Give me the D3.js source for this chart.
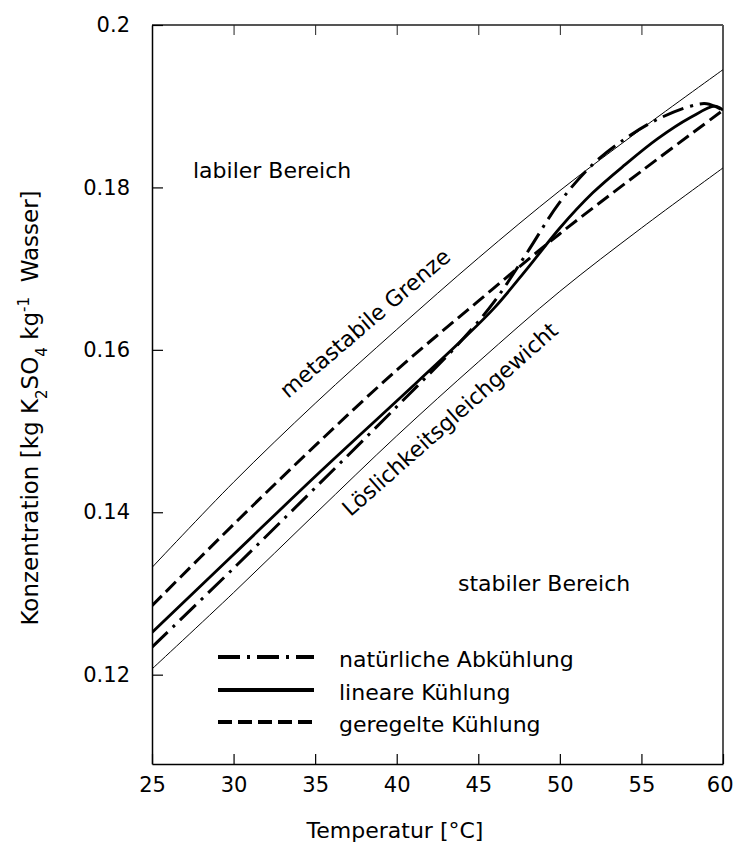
<!DOCTYPE html>
<html>
<head>
<meta charset="utf-8">
<script src="https://cdn.jsdelivr.net/npm/d3@7"></script>
<style>
  html, body { margin: 0; padding: 0; background: #fff; }
  svg { display: block; font-family: "DejaVu Sans", sans-serif; }
</style>
</head>
<body>
<svg id="chart" width="734" height="846"></svg>
<script>
// --- DATA ---
const xTicks = [25, 30, 35, 40, 45, 50, 55, 60];
const yTicks = [0.12, 0.14, 0.16, 0.18, 0.2];
const yTickLabels = ["0.12", "0.14", "0.16", "0.18", "0.2"];

// Löslichkeitsgleichgewicht (solubility) and metastabile Grenze
const solT = [25, 30, 35, 40, 45, 50, 55, 60];
const solC = [0.1207, 0.1301, 0.1398, 0.1494, 0.1585, 0.1672, 0.1750, 0.1824];
const metaT = [25, 30, 35, 40, 45, 50, 55, 60];
const metaC = [0.1332, 0.1437, 0.1534, 0.1625, 0.1713, 0.1796, 0.1872, 0.1945];

// cooling curves
const natT = [25, 30, 35, 40, 44, 46, 48, 50, 52, 54, 56, 58, 59, 60];
const natC = [0.1234, 0.1331, 0.1430, 0.1530, 0.1612, 0.1660, 0.1720, 0.1782, 0.1828, 0.1860, 0.1884, 0.1900, 0.1903, 0.1895];
const linT = [25, 30, 35, 40, 44, 46, 48, 50, 52, 54, 56, 58, 59.5, 60];
const linC = [0.1252, 0.1348, 0.1444, 0.1537, 0.1612, 0.1652, 0.1700, 0.1750, 0.1793, 0.1828, 0.1860, 0.1886, 0.1900, 0.1895];
const regT = [25, 30, 35, 40, 45, 50, 55, 60];
const regC = [0.1285, 0.1385, 0.1482, 0.1575, 0.1660, 0.1743, 0.1820, 0.1895];

const legendLabels = ["natürliche Abkühlung", "lineare Kühlung", "geregelte Kühlung"];

// --- LAYOUT ---
const L = 152, R = 723, T = 25, B = 764;
const DASH_DOT = "22,7,3,7";
const DASHED = "14,6";

const svg = d3.select("#chart");
const x = d3.scaleLinear().domain([25, 60]).range([L, R]);
const y = d3.scaleLinear().domain([0.109, 0.2]).range([B, T]);

const zip = (a, b) => a.map((v, i) => [v, b[i]]);

svg.append("defs").append("clipPath").attr("id", "plot")
  .append("rect").attr("x", L).attr("y", T).attr("width", R - L).attr("height", B - T);

// frame: top and right grey, left and bottom black
svg.append("line").attr("x1", L).attr("y1", T).attr("x2", R).attr("y2", T)
  .attr("stroke", "#555").attr("stroke-width", 2);
svg.append("line").attr("x1", R).attr("y1", T).attr("x2", R).attr("y2", B)
  .attr("stroke", "#555").attr("stroke-width", 2);

// axes
const xAxis = svg.append("g").attr("transform", `translate(0,${B})`)
  .call(d3.axisBottom(x).tickValues(xTicks).tickFormat(d3.format("d"))
    .tickSizeInner(-10).tickSizeOuter(0).tickPadding(13));
const yAxis = svg.append("g").attr("transform", `translate(${L},0)`)
  .call(d3.axisLeft(y).tickValues(yTicks).tickFormat((d, i) => yTickLabels[i])
    .tickSizeInner(-11).tickSizeOuter(0).tickPadding(22));
const topAxis = svg.append("g").attr("transform", `translate(0,${T})`)
  .call(d3.axisTop(x).tickValues(xTicks.slice(1, -1)).tickFormat("")
    .tickSizeInner(-10).tickSizeOuter(0));
topAxis.select(".domain").remove();
topAxis.selectAll("line").attr("stroke", "#222");

[xAxis, yAxis].forEach(a => {
  a.select(".domain").attr("stroke", "#000").attr("stroke-width", 1.5);
  a.selectAll("line").attr("stroke", "#000").attr("stroke-width", 1.2);
  a.selectAll("text").attr("font-family", "DejaVu Sans").attr("font-size", 21).attr("fill", "#000");
});
// last x label sits against the right edge
xAxis.selectAll(".tick").filter(d => d === 60).select("text")
  .attr("text-anchor", "end").attr("x", 733 - R);

// curves
const line = d3.line().x(d => x(d[0])).y(d => y(d[1])).curve(d3.curveCatmullRom.alpha(0.5));
const plot = svg.append("g").attr("clip-path", "url(#plot)");

plot.append("path").datum(zip(solT, solC)).attr("d", line)
  .attr("fill", "none").attr("stroke", "#000").attr("stroke-width", 1);
plot.append("path").datum(zip(metaT, metaC)).attr("d", line)
  .attr("fill", "none").attr("stroke", "#000").attr("stroke-width", 1);

plot.append("path").datum(zip(regT, regC)).attr("d", line)
  .attr("fill", "none").attr("stroke", "#000").attr("stroke-width", 3)
  .attr("stroke-dasharray", DASHED);
plot.append("path").datum(zip(natT, natC)).attr("d", line)
  .attr("fill", "none").attr("stroke", "#000").attr("stroke-width", 3)
  .attr("stroke-dasharray", DASH_DOT);
plot.append("path").datum(zip(linT, linC)).attr("d", line)
  .attr("fill", "none").attr("stroke", "#000").attr("stroke-width", 2.8);

// region labels
svg.append("text").attr("x", 193).attr("y", 178).attr("font-size", 22).text("labiler Bereich");
svg.append("text").attr("x", 458).attr("y", 591).attr("font-size", 22).text("stabiler Bereich");

svg.append("text").attr("text-anchor", "middle").attr("font-size", 22)
  .attr("transform", "translate(370,329) rotate(-40.5)").text("metastabile Grenze");
svg.append("text").attr("text-anchor", "middle").attr("font-size", 22)
  .attr("transform", "translate(455,425) rotate(-41.5)").text("Löslichkeitsgleichgewicht");

// legend
const legendY = [657, 690, 722];
const legendDash = [DASH_DOT, null, DASHED];
const lg = svg.append("g");
legendLabels.forEach((lab, i) => {
  lg.append("line").attr("x1", 218).attr("x2", 314).attr("y1", legendY[i]).attr("y2", legendY[i])
    .attr("stroke", "#000").attr("stroke-width", 4)
    .attr("stroke-dasharray", legendDash[i]);
  lg.append("text").attr("x", 339).attr("y", legendY[i] + 10).attr("font-size", 22).text(lab);
});

// axis titles
svg.append("text").attr("x", 395).attr("y", 838).attr("text-anchor", "middle")
  .attr("font-size", 22).text("Temperatur [°C]");

const yt = svg.append("text").attr("text-anchor", "middle").attr("font-size", 23)
  .attr("transform", "translate(38,408) rotate(-90)");
yt.append("tspan").text("Konzentration [kg K");
yt.append("tspan").attr("baseline-shift", "sub").attr("font-size", 15).text("2");
yt.append("tspan").text("SO");
yt.append("tspan").attr("baseline-shift", "sub").attr("font-size", 15).text("4");
yt.append("tspan").text(" kg");
yt.append("tspan").attr("baseline-shift", "super").attr("font-size", 15).text("-1");
yt.append("tspan").text("\u00a0 Wasser]");
</script>
</body>
</html>
